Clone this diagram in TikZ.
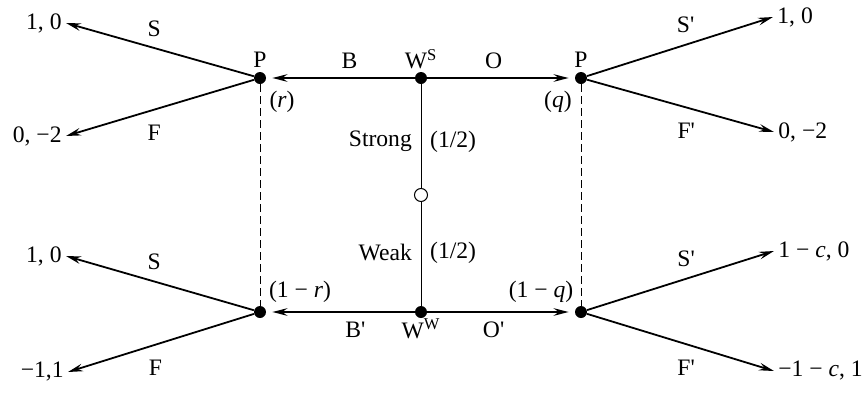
\documentclass[tikz,border=0pt]{standalone}
\usepackage{fontspec}
\setmainfont{Liberation Serif}
\usetikzlibrary{arrows.meta,positioning}

\begin{document}
\begin{tikzpicture}[x=0.5pt, y=-0.5pt,
  font=\fontsize{11.8}{13}\selectfont,
  dot/.style={circle, fill, inner sep=0pt, minimum size=6pt},
  chance/.style={circle, draw, fill=white, inner sep=0pt, minimum size=6.5pt, line width=0.5pt},
  pay/.style={inner sep=2pt},
  arr/.style={-{Stealth[length=7.5pt, width=3.8pt, inset=2.6pt]}, line width=0.9pt},
  stem/.style={line width=0.5pt},
  info/.style={line width=0.5pt, dash pattern=on 4pt off 2pt}]
\useasboundingbox (0,0) rectangle (864,392);

% decision and chance nodes
\node[dot] (wS) at (421,78) {};
\node[dot] (wW) at (421,312) {};
\node[chance] (nat) at (421,195) {};
\node[dot] (pTL) at (260,78) {};
\node[dot] (pBL) at (260,312) {};
\node[dot] (pTR) at (581,78) {};
\node[dot] (pBR) at (581,312) {};

\node[above=0pt of wS, inner sep=1pt] (lwS) {W\textsuperscript{S}};
\node[below=-1pt of wW, inner sep=1pt] (lwW) {W\textsuperscript{W}};
\node[above=-1.5pt of pTL] (lpTL) {P};
\node[above=-1.5pt of pTR] (lpTR) {P};

% payoffs
\node[pay, anchor=east] (tTL1) at (66,23) {1, 0};
\node[pay, anchor=east] (tTL2) at (66,136) {0, −2};
\node[pay, anchor=east] (tBL1) at (66,256) {1, 0};
\node[pay, anchor=east] (tBL2) at (68,372) {−1,1};
\node[pay, anchor=west] (tTR1) at (773,17) {1, 0};
\node[pay, anchor=west] (tTR2) at (774,132) {0, −2};
\node[pay, anchor=west] (tBR1) at (774,251) {1 − \textit{c}, 0};
\node[pay, anchor=west] (tBR2) at (774,371) {−1 − \textit{c}, 1};

% nature
\draw[stem] (wS) -- node[left=1pt, pos=0.55] (lStrong) {Strong} node[right=1pt, pos=0.55] (lps) {(1/2)} (nat);
\draw[stem] (nat) -- node[left=1pt, pos=0.49] (lWeak) {Weak} node[right=1pt, pos=0.49] (lpw) {(1/2)} (wW);

% worker's messages
\draw[arr, shorten >=3pt] (wS) -- node[above=1pt, pos=0.44] (lB) {B} (pTL);
\draw[arr, shorten >=3pt] (wS) -- node[above=1pt, pos=0.45] (lO) {O} (pTR);
\draw[arr, shorten >=3pt] (wW) -- node[below=1pt, pos=0.4] (lB2) {B\textquotesingle} (pBL);
\draw[arr, shorten >=3pt] (wW) -- node[below=1pt, pos=0.45] (lO2) {O\textquotesingle} (pBR);

% information sets
\draw[info] (pTL) -- (pBL);
\draw[info] (pTR) -- (pBR);
\node (lr) at (282,102) {(\textit{r})};
\node (lq) at (558,102) {(\textit{q})};
\node (l1r) at (300,292) {(1 − \textit{r})};
\node (l1q) at (541,292) {(1 − \textit{q})};

% principal's responses
\draw[arr] (pTL) -- node[above=2pt, pos=0.53] (lS1) {S} (tTL1.east);
\draw[arr] (pTL) -- node[below=4pt, pos=0.53] (lF1) {F} (tTL2.east);
\draw[arr] (pBL) -- node[above=2pt, pos=0.53] (lS2) {S} (tBL1.east);
\draw[arr] (pBL) -- node[below=4pt, pos=0.53] (lF2) {F} (tBL2.east);
\draw[arr] (pTR) -- node[above=2pt, pos=0.53] (lS3) {S\textquotesingle} (tTR1.west);
\draw[arr] (pTR) -- node[below=4pt, pos=0.53] (lF3) {F\textquotesingle} (tTR2.west);
\draw[arr] (pBR) -- node[above=2pt, pos=0.53] (lS4) {S\textquotesingle} (tBR1.west);
\draw[arr] (pBR) -- node[below=4pt, pos=0.53] (lF4) {F\textquotesingle} (tBR2.west);
\end{tikzpicture}
\end{document}
